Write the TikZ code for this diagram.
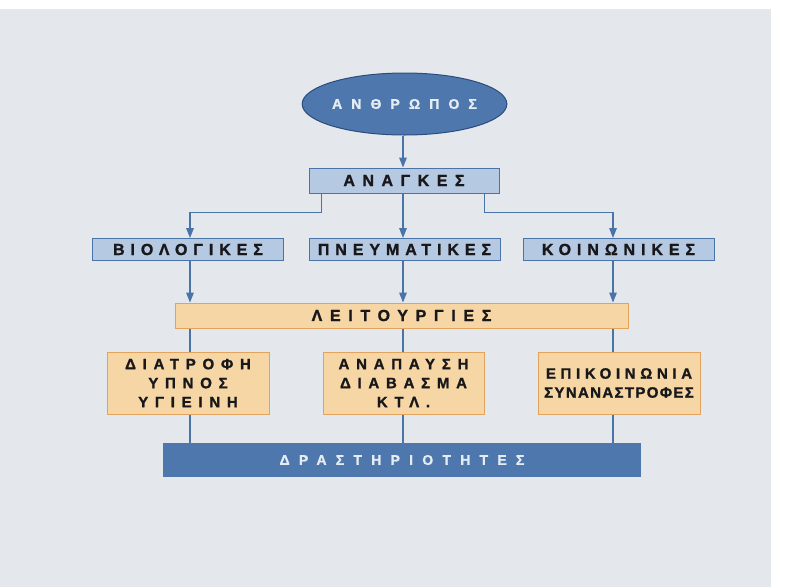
\documentclass[tikz,border=0pt]{standalone}
\usepackage{fontspec}
\setmainfont{Liberation Sans}
\newfontfamily\diagfont[BoldFeatures={FakeBold=1.3}]{Liberation Sans}
\usetikzlibrary{shapes,arrows,positioning,calc,arrows.meta}

\definecolor{panel}{HTML}{E4E7EC}
\definecolor{linkblue}{HTML}{4A73A7}
\definecolor{darkblue}{HTML}{2B4C7C}
\definecolor{midblue}{HTML}{4E78AD}
\definecolor{lightblue}{HTML}{B5C9E2}
\definecolor{peach}{HTML}{F5D6A4}
\definecolor{edgeorange}{HTML}{E2A45C}
\definecolor{inkdark}{HTML}{18181B}
\definecolor{paletext}{HTML}{E6ECF4}

\newcommand{\boxtext}{\diagfont\bfseries\fontsize{16}{19}\selectfont\addfontfeature{LetterSpace=37}}
\newcommand{\functext}{\diagfont\bfseries\fontsize{15}{19}\selectfont\addfontfeature{LetterSpace=45}}
\newcommand{\widetext}{\diagfont\bfseries\fontsize{14}{16}\selectfont\addfontfeature{LetterSpace=65}}
\newcommand{\spread}[1]{\addfontfeature{LetterSpace=#1}}

\begin{document}
\begin{tikzpicture}[x=1pt,y=-1pt,
    link/.style={draw=linkblue, line width=1.4pt},
    arrow/.style={link, -{Triangle[length=10pt,width=7.5pt]}},
    person/.style={ellipse, draw=darkblue, line width=1pt, fill=midblue, text=paletext,
        minimum width=185pt, minimum height=62pt, inner sep=0pt, font=\widetext},
    needbox/.style={rectangle, draw=linkblue, line width=1pt, fill=lightblue, text=inkdark,
        minimum width=191pt, minimum height=22pt, inner sep=0pt, font=\boxtext},
    funcbox/.style={rectangle, draw=edgeorange, line width=1pt, fill=peach, text=inkdark,
        minimum width=162pt, minimum height=62pt, inner sep=0pt, align=center, font=\functext},
    actbox/.style={rectangle, fill=midblue, text=paletext,
        minimum width=478pt, minimum height=34pt, inner sep=0pt, font=\widetext}]

    % Page
    \useasboundingbox (0,0) rectangle (787,587);
    \fill[white] (0,0) rectangle (787,587);
    \fill[panel] (0,9) rectangle (771,587);

    % Columns
    \coordinate (col1) at (190,0);
    \coordinate (col2) at (403,0);
    \coordinate (col3) at (613,0);

    % Top
    \node (pers) at (404.5,104) [person] {ΑΝΘΡΩΠΟΣ};
    \node (anag) at (404,180.5) [needbox, minimum width=190pt, minimum height=25pt] {\spread{47}ΑΝΑΓΚΕΣ};

    % Needs
    \node (biol) at (188,249.5) [needbox] {ΒΙΟΛΟΓΙΚΕΣ};
    \node (pneu) at (404.5,249.5) [needbox] {ΠΝΕΥΜΑΤΙΚΕΣ};
    \node (koin) at (618.5,249.5) [needbox] {ΚΟΙΝΩΝΙΚΕΣ};

    % Functions
    \node (leit) at (401.5,315.5) [funcbox, minimum width=453pt, minimum height=25pt, font=\boxtext] {\spread{48}ΛΕΙΤΟΥΡΓΙΕΣ};
    \node (diat) at (188,383) [funcbox] {ΔΙΑΤΡΟΦΗ\\ΥΠΝΟΣ\\ΥΓΙΕΙΝΗ};
    \node (anap) at (403.5,383) [funcbox, minimum width=161pt] {ΑΝΑΠΑΥΣΗ\\ΔΙΑΒΑΣΜΑ\\ΚΤΛ.};
    \node (epik) at (619,383) [funcbox] {{\spread{31}ΕΠΙΚΟΙΝΩΝΙΑ}\\{\spread{9}ΣΥΝΑΝΑΣΤΡΟΦΕΣ}};

    % Activities
    \node (dras) at (402,460) [actbox] {\spread{66}ΔΡΑΣΤΗΡΙΟΤΗΤΕΣ};

    % Arrows
    \draw[arrow] (pers.south -| col2) -- (anag.north -| col2);
    \draw[arrow] ([xshift=13pt]anag.south west) -- ++(0,19) -| (biol.north -| col1);
    \draw[arrow] (anag.south -| col2) -- (pneu.north -| col2);
    \draw[arrow] ([xshift=-15pt]anag.south east) -- ++(0,19) -| (koin.north -| col3);
    \draw[arrow] (biol.south -| col1) -- (leit.north -| col1);
    \draw[arrow] (pneu.south -| col2) -- (leit.north -| col2);
    \draw[arrow] (koin.south -| col3) -- (leit.north -| col3);

    % Lines
    \draw[link] (leit.south -| col1) -- (diat.north -| col1);
    \draw[link] (leit.south -| col2) -- (anap.north -| col2);
    \draw[link] (leit.south -| col3) -- (epik.north -| col3);
    \draw[link] (diat.south -| col1) -- (dras.north -| col1);
    \draw[link] (anap.south -| col2) -- (dras.north -| col2);
    \draw[link] (epik.south -| col3) -- (dras.north -| col3);
\end{tikzpicture}
\end{document}
